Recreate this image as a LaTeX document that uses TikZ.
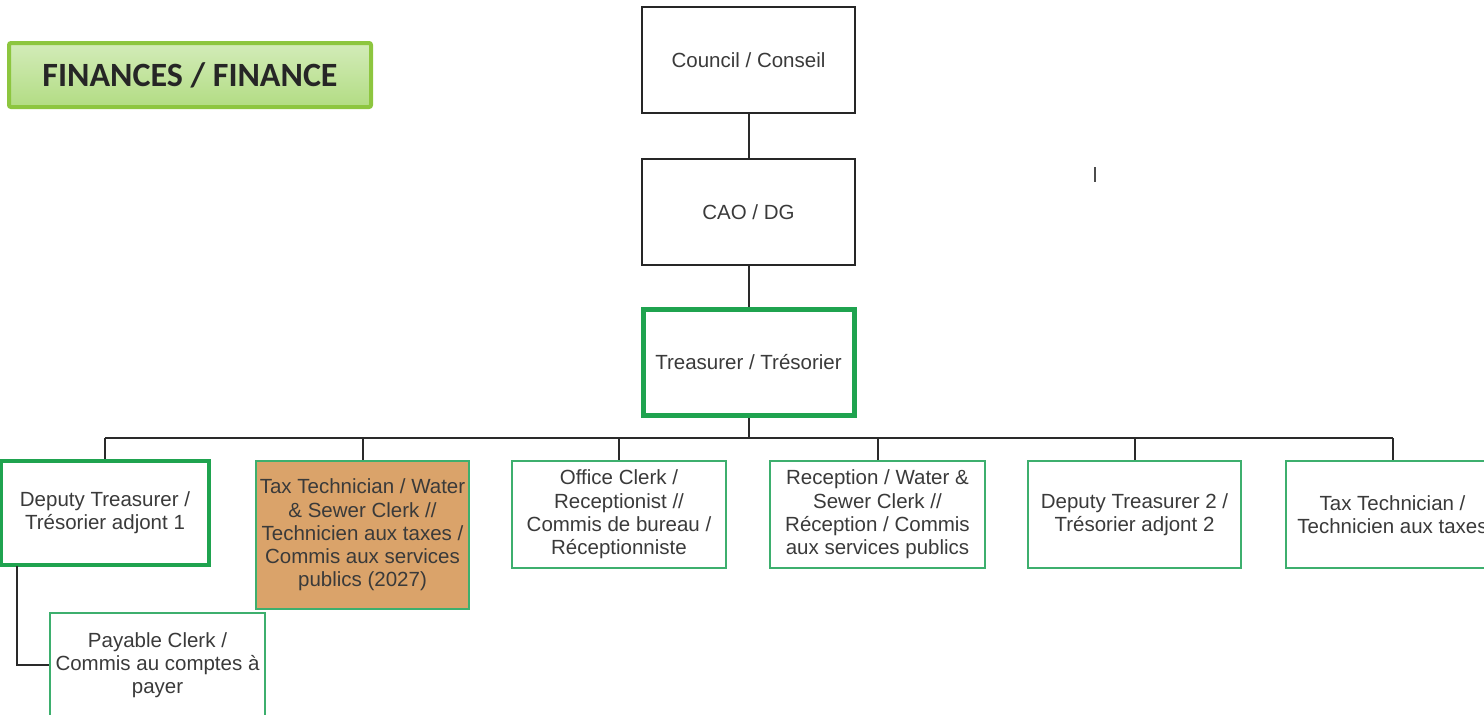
\documentclass[tikz,border=0pt]{standalone}
\usepackage{fontspec}
\setmainfont{Liberation Sans}
\newfontfamily\titlefont{Carlito}
\definecolor{thickgreen}{HTML}{1FA34F}
\definecolor{thingreen}{HTML}{3DAF6E}
\definecolor{boxorange}{HTML}{DAA36A}
\definecolor{titleborder}{HTML}{8DC63F}
\definecolor{titletop}{HTML}{D3ECB9}
\definecolor{titlebot}{HTML}{B2DC83}
\definecolor{txtgray}{HTML}{3A3A3A}
\definecolor{linegray}{HTML}{2A2A2A}
\tikzset{
  base/.style={draw, inner sep=0pt, align=center, text=txtgray,
    font=\fontsize{20.5}{23.3}\selectfont},
  blackbox/.style={base, draw=black!85, line width=2pt},
  greenthick/.style={base, draw=thickgreen, line width=4.5pt},
  greenthin/.style={base, draw=thingreen, line width=2pt},
  conn/.style={draw=linegray, line width=2pt},
}
\begin{document}
\begin{tikzpicture}[x=1pt,y=-1pt]
\useasboundingbox (0,0) rectangle (1484,715);
% title
\node[draw=titleborder, line width=4pt, rounded corners=2pt,
  top color=titletop, bottom color=titlebot,
  minimum width=362pt, minimum height=64pt, inner sep=0pt,
  text=black!85, font=\titlefont\bfseries\fontsize{34}{40}\selectfont]
  (title) at (190,75) {FINANCES / FINANCE};
% boxes
\node[blackbox, minimum width=213pt, minimum height=106pt] (council) at (748.5,60) {Council / Conseil};
\node[blackbox, minimum width=213pt, minimum height=106pt] (cao) at (748.5,212) {CAO / DG};
\node[greenthick, line width=5pt, minimum width=211pt, minimum height=106pt] (treas) at (748.5,362.5) {Treasurer / Trésorier};
\node[greenthick, minimum width=208pt, minimum height=104pt] (dep1) at (105,513) {Deputy Treasurer /\\Trésorier adjont 1};
\node[greenthin, fill=boxorange, minimum width=213pt, minimum height=148pt] (tax) at (362.5,535)
  {Tax Technician / Water\\\& Sewer Clerk //\\Technicien aux taxes /\\Commis aux services\\publics (2027)};
\node[greenthin, minimum width=214pt, minimum height=107pt] (office) at (619,514.5)
  {Office Clerk /\\Receptionist //\\Commis de bureau /\\Réceptionniste};
\node[greenthin, minimum width=215pt, minimum height=107pt] (recep) at (877.5,514.5)
  {Reception / Water \&\\Sewer Clerk //\\Réception / Commis\\aux services publics};
\node[greenthin, minimum width=213pt, minimum height=107pt] (dep2) at (1134.5,514.5)
  {Deputy Treasurer 2 /\\Trésorier adjont 2};
\node[greenthin, minimum width=213pt, minimum height=107pt] (taxt) at (1392.5,514.5)
  {Tax Technician /\\Technicien aux taxes};
\node[greenthin, minimum width=215pt, minimum height=104pt] (pay) at (157.5,665)
  {Payable Clerk /\\Commis au comptes à\\payer};
% connectors
\coordinate (bus) at (748.5,438);
\coordinate (d1out) at (17,566);
\draw[conn] (council) -- (cao);
\draw[conn] (cao) -- (treas);
\draw[conn] (treas) -- (bus);
\draw[conn] (bus -| dep1.north) -- (bus -| taxt.north);
\foreach \n in {dep1,tax,office,recep,dep2,taxt}
  \draw[conn] (bus -| \n.north) -- (\n.north);
\draw[conn] (d1out) |- (pay.west);
% stray mark
\coordinate (m1) at (1095,167);
\coordinate (m2) at (1095,182);
\draw[draw=black!70, line width=1.6pt] (m1) -- (m2);
\end{tikzpicture}
\end{document}
